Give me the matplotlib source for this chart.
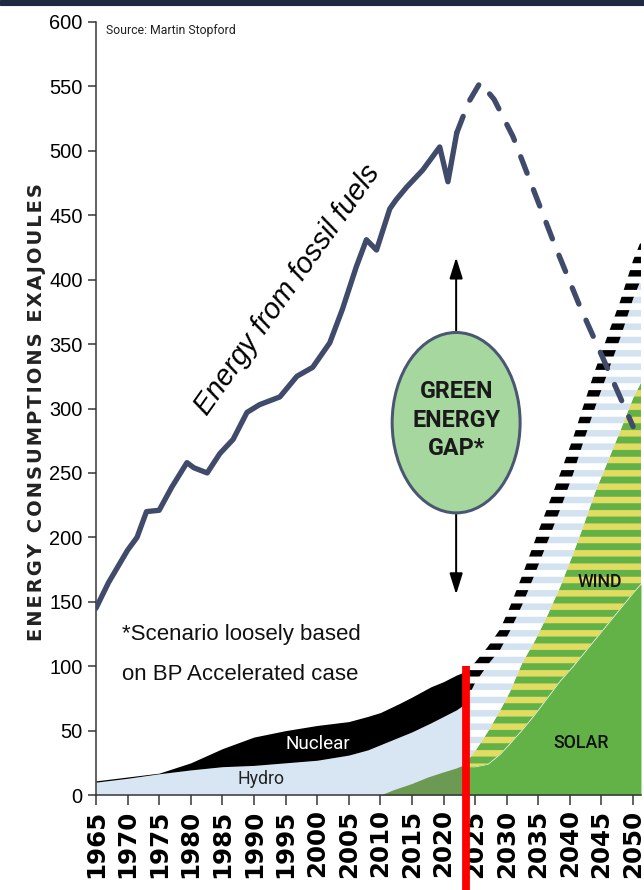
import numpy as np
import matplotlib
matplotlib.use('Agg')
import matplotlib.pyplot as plt
from matplotlib.patches import Ellipse, Rectangle

plt.rcParams['font.family'] = ['Liberation Sans', 'DejaVu Sans']
plt.rcParams['hatch.linewidth'] = 5.8

# fossil fuel energy, history (solid) and scenario (dashed)
fossil_years = [1965, 1967, 1970, 1971.5, 1973, 1975, 1977, 1979.4, 1980.5, 1982.6, 1984.6,
                1986.7, 1988.9, 1990.9, 1994.1, 1996.8, 1999.3, 2002, 2004, 2006.2, 2007.8,
                2009.4, 2011.5, 2012.5, 2014.2, 2016.7, 2019.4, 2020.7, 2022.1]
fossil_vals = [145, 165, 190, 200, 220, 221, 239, 258, 254, 250, 265,
               276, 297, 303, 309, 325, 332, 351, 377, 410, 431,
               423, 455, 462, 472, 485, 503, 476, 514]
fossil_fut_years = [2022.1, 2024, 2025.8, 2028, 2031, 2034.3, 2037.6, 2041.6, 2044.7, 2050]
fossil_fut_vals = [514, 538, 553, 540, 511, 469, 427, 379, 345, 286]

# history: hydro (light blue), nuclear (black), early wind+solar (olive)
hist_years = [1965, 1970, 1975, 1980, 1985, 1990, 1995, 2000, 2005, 2008, 2010, 2013,
              2015, 2018, 2020, 2022, 2023.5]
hydro_top = [10, 13, 16.5, 19.5, 22, 23, 25, 27, 31, 35, 39, 45, 49, 56, 61, 66, 71]
nuclear_top = [11, 14, 17, 25, 36, 45, 50, 54, 57, 61, 64, 71, 76, 84, 88, 93, 96]
olive_years = [2010, 2012, 2015, 2017.5, 2020, 2022, 2023.5]
olive_top = [0, 4, 9, 14, 18, 21, 24]

# scenario: solar, wind, hydro, nuclear (cumulative tops)
fut_years = [2023.5, 2025, 2027, 2029, 2030.5, 2032.5, 2034.5, 2036.5, 2038.5, 2040.5,
             2042, 2044, 2046, 2048, 2050, 2051.25]
solar_top = [22, 22, 24, 32, 40, 51, 63, 76, 89, 100, 109, 121, 133, 145, 157, 164]
wind_top = [25, 34, 49, 66, 80, 103, 120, 140, 162, 187, 207, 235, 259, 283, 308, 320]
total_top = [96, 103, 115, 129, 146, 171, 198, 224, 250, 277, 300, 330, 357, 384, 415, 430]
nuclear_band = [24, 16, 14, 16, 19, 23, 26, 27, 28, 28, 28, 29, 29, 29, 30, 30]

marker_year = 2023.5
marker_top = 100

x_ticks = list(range(1965, 2051, 5))
y_ticks = list(range(0, 601, 50))

c_fossil = '#404b6b'
c_hydro = '#d8e6f3'
c_green = '#63b247'
c_yellow = '#e3dc63'
c_olive = '#6c9a52'

fig = plt.figure(figsize=(8.05, 11.125), dpi=80)
fig.add_artist(Rectangle((0, 1 - 5 / 890), 1, 5 / 890, transform=fig.transFigure,
                         color='#1e2a42', zorder=10))
ax = fig.add_axes([0.149, 0.1067, 0.8463, 0.8686])

# historical stack
ax.fill_between(hist_years, 0, hydro_top, color=c_hydro, lw=0, zorder=1)
ax.fill_between(hist_years, hydro_top, nuclear_top, color='black', lw=0, zorder=1)
ax.fill_between(olive_years, 0, olive_top, color=c_olive, lw=0, zorder=2)

# scenario stack
tot = np.array(total_top)
nuc_base = tot - np.array(nuclear_band)
ax.fill_between(fut_years, 0, solar_top, color=c_green, lw=0, zorder=1)
ax.fill_between(fut_years, solar_top, wind_top, facecolor=c_green, edgecolor=c_yellow,
                hatch='-', lw=0, zorder=1)
ax.fill_between(fut_years, wind_top, nuc_base, facecolor='white', edgecolor='#d3e2f0',
                hatch='-', lw=0, zorder=1)
ax.fill_between(fut_years, nuc_base, tot, facecolor='white', edgecolor='black',
                hatch='-', lw=0, zorder=1)

# fossil line
ax.plot(fossil_years, fossil_vals, color=c_fossil, lw=4.8, solid_capstyle='round',
        solid_joinstyle='round', zorder=6)
ax.plot(fossil_fut_years, fossil_fut_vals, color=c_fossil, lw=4.8,
        linestyle=(0, (3.3, 3.3)), dash_capstyle='round', zorder=6)

# red "today" marker
ax.plot([marker_year, marker_year], [marker_top, -80], color='#ff0000', lw=7,
        solid_capstyle='butt', clip_on=False, zorder=8)

# green energy gap bubble
gap_x, gap_y = 2022.0, 289
ax.annotate('', xy=(gap_x, 419), xytext=(gap_x, 355),
            arrowprops=dict(arrowstyle='-|>,head_length=0.8,head_width=0.25',
                            color='black', lw=1.8, mutation_scale=20), zorder=3)
ax.annotate('', xy=(gap_x, 154), xytext=(gap_x, 223),
            arrowprops=dict(arrowstyle='-|>,head_length=0.8,head_width=0.25',
                            color='black', lw=1.8, mutation_scale=20), zorder=3)
ax.add_patch(Ellipse((gap_x, gap_y), width=20.25, height=140, facecolor='#a5d79f',
                     edgecolor='#4b5672', lw=2.7, zorder=4))
ax.text(gap_x, gap_y + 2, 'GREEN\nENERGY\nGAP*', ha='center', va='center', fontsize=21,
        fontweight='bold', family=['Roboto', 'Liberation Sans'],
        color='#1a1a1a', linespacing=1.3, zorder=5)

# labels
ax.text(1996.26, 388.6, 'Energy from fossil fuels', rotation=54.6, rotation_mode='anchor',
        ha='center', va='baseline', fontsize=26, style='italic', color='black', zorder=7)
ax.text(1969.1, 120.3, '*Scenario loosely based', ha='left', va='baseline', fontsize=20,
        color='#111111')
ax.text(1969.1, 89.3, 'on BP Accelerated case', ha='left', va='baseline', fontsize=20,
        color='#111111')
ax.text(2000.1, 39.6, 'Nuclear', ha='center', va='center', fontsize=17, color='white',
        family=['Roboto', 'Liberation Sans'], zorder=7)
ax.text(1991.1, 12.4, 'Hydro', ha='center', va='center', fontsize=16, color='#222222',
        family=['Roboto', 'Liberation Sans'], zorder=7)
ax.text(2044.8, 165, 'WIND', ha='center', va='center', fontsize=16, color='#111111',
        family=['Roboto', 'Liberation Sans'], fontweight='medium', zorder=7)
ax.text(2041.8, 40.4, 'SOLAR', ha='center', va='center', fontsize=16, color='#111111',
        family=['Roboto', 'Liberation Sans'], fontweight='medium', zorder=7)
ax.text(0.018, 0.997, 'Source: Martin Stopford', transform=ax.transAxes, ha='left', va='top',
        fontsize=11, family=['Roboto', 'Liberation Sans'], color='#222222')

# axes styling
ax.set_xlim(1965, 2051.25)
ax.set_ylim(0, 600)
ax.set_xticks(x_ticks)
ax.set_yticks(y_ticks)
for s in ['top', 'right']:
    ax.spines[s].set_visible(False)
for s in ['left', 'bottom']:
    ax.spines[s].set_color('#333333')
    ax.spines[s].set_linewidth(1.35)
ax.tick_params(axis='x', length=9, width=1.35, color='#333333', pad=4, labelsize=22,
               labelrotation=90)
ax.tick_params(axis='y', length=7, width=1.35, color='#333333', pad=5, labelsize=18)
for lbl in ax.get_xticklabels():
    lbl.set_fontweight('bold')
    lbl.set_fontfamily('DejaVu Sans')
ylab = '\u200a'.join('ENERGY CONSUMPTIONS EXAJOULES')
ax.set_ylabel(ylab, fontsize=17.5, fontweight='bold', family='DejaVu Sans', color='#222222')
ax.yaxis.set_label_coords(-0.092, 0.495)

fig.savefig('out.png', dpi=80)
